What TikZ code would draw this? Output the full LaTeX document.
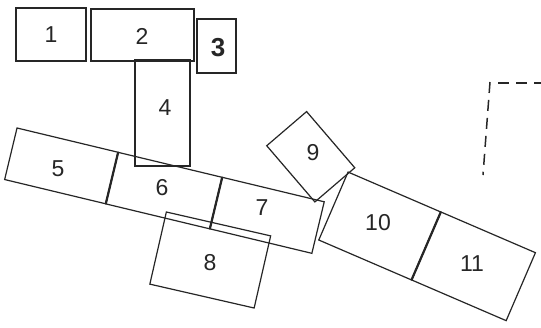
\documentclass[tikz,border=0pt]{standalone}
\usepackage{fontspec}
\setmainfont{Liberation Sans}
\begin{document}
\begin{tikzpicture}[x=1pt,y=-1pt,
  box/.style={draw=black!85, line width=1.2pt, rectangle, inner sep=0pt, outer sep=0pt},
  num/.style={font=\fontsize{23}{23}\selectfont, text=black!85, inner sep=0pt},
  divider/.style={line width=2.2pt, draw=black!85},
  dashline/.style={draw=black!85, line width=1.5pt, dash pattern=on 11pt off 7pt}]
\useasboundingbox (0,0) rectangle (541,327);
\fill[white] (0,0) rectangle (541,327);
% top row
\node[box, minimum width=70pt, minimum height=53pt] (b1) at (51,34.5) {};
\node[box, minimum width=103pt, minimum height=52pt] (b2) at (142.5,35) {};
\node[box, line width=1.4pt, minimum width=39pt, minimum height=54pt] (b3) at (216.5,46) {};
\node[box, minimum width=55pt, minimum height=106pt] (b4) at (162.5,113) {};
% strip 5-6-7
\node[box, rotate=-13.5, minimum width=104pt, minimum height=53pt] (b5) at (61.4,165.9) {};
\node[box, rotate=-13.5, minimum width=107pt, minimum height=53pt] (b6) at (164,190.6) {};
\node[box, rotate=-13.5, minimum width=105pt, minimum height=53pt] (b7) at (267,215.3) {};
\draw[divider] (b5.north east) -- (b5.south east);
\draw[divider] (b6.north east) -- (b6.south east);
% box 8
\node[box, rotate=-12.9, minimum width=107pt, minimum height=74pt] (b8) at (210.25,260) {};
% box 9
\node[box, rotate=-49.4, minimum width=74pt, minimum height=52.5pt] (b9) at (310.75,156.75) {};
% strip 10-11
\node[box, rotate=-23.3, minimum width=101pt, minimum height=74pt] (b10) at (379.8,226) {};
\node[box, rotate=-23.3, minimum width=103pt, minimum height=74pt] (b11) at (473.5,266.3) {};
\draw[divider] (b10.north east) -- (b10.south east);
% dashed corner
\coordinate (h1) at (498,83);
\coordinate (h2) at (541,83);
\coordinate (v1) at (490,82);
\coordinate (v2) at (483,175);
\draw[dashline] (h1) -- (h2);
\draw[dashline] (v1) -- (v2);
% labels
\node[num] (l1) at (51,35) {1};
\node[num] (l2) at (142,36) {2};
\node[num, font=\fontsize{26}{26}\selectfont\bfseries] (l3) at (218,48) {3};
\node[num] (l4) at (165,108) {4};
\node[num] (l5) at (58,169) {5};
\node[num] (l6) at (162,188) {6};
\node[num] (l7) at (262,208) {7};
\node[num] (l8) at (210,263) {8};
\node[num] (l9) at (313,153) {9};
\node[num] (l10) at (378,223) {10};
\node[num] (l11) at (472,264) {11};
\end{tikzpicture}
\end{document}
